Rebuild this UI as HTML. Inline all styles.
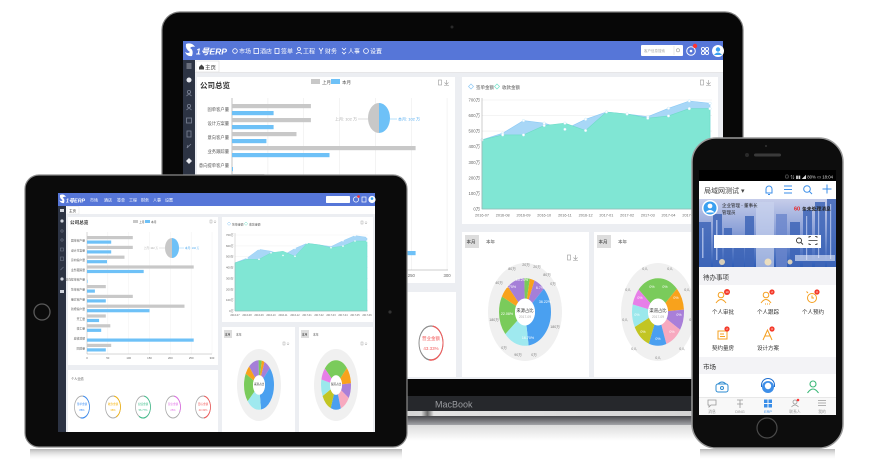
<!DOCTYPE html>
<html><head><meta charset="utf-8">
<style>
html,body{margin:0;padding:0;background:#fff;width:871px;height:464px;overflow:hidden;}
svg{display:block;}
text{font-family:"Liberation Sans","Noto Sans CJK SC",sans-serif;}
</style></head><body>
<svg width="871" height="464" viewBox="0 0 871 464" xmlns="http://www.w3.org/2000/svg">
<defs>
 <linearGradient id="strip" x1="0" x2="1" y1="0" y2="0">
  <stop offset="0" stop-color="#9a9a9a"/><stop offset="0.45" stop-color="#d8d8d8"/><stop offset="0.46" stop-color="#6a6a6a"/><stop offset="0.47" stop-color="#e4e4e4"/><stop offset="1" stop-color="#d0d0d0"/>
 </linearGradient>
 <linearGradient id="baseG" x1="0" x2="0" y1="0" y2="1">
  <stop offset="0" stop-color="#48494d"/><stop offset="1" stop-color="#a3a4a8"/>
 </linearGradient>
 <linearGradient id="refl" x1="0" x2="0" y1="0" y2="1">
  <stop offset="0" stop-color="#dcdcdc"/><stop offset="1" stop-color="#ffffff"/>
 </linearGradient>
 <linearGradient id="refl2" x1="0" x2="0" y1="0" y2="1">
  <stop offset="0" stop-color="#b8b8b8"/><stop offset="1" stop-color="#ffffff" stop-opacity="0"/>
 </linearGradient>
 <linearGradient id="ban" x1="0" y1="0" x2="0" y2="1">
  <stop offset="0" stop-color="#c6cdea"/><stop offset="0.45" stop-color="#8da2d8"/><stop offset="1" stop-color="#2e5cb6"/>
 </linearGradient>
</defs>

<!-- ============ LAPTOP ============ -->
<rect x="140" y="410" width="625" height="6" fill="url(#strip)"/>
<rect x="140" y="416" width="625" height="9" fill="url(#baseG)"/>
<rect x="150" y="425" width="605" height="16" fill="url(#refl)"/>
<rect x="162" y="12" width="581" height="398" rx="18" fill="#070707" stroke="#7d7d7d" stroke-width="1.2"/>
<rect x="163" y="396" width="579" height="15" fill="#26282c"/>
<text x="435" y="407.5" font-size="9" fill="#9a9ca0">MacBook</text>
<circle cx="452" cy="27" r="1.5" fill="#2a2a2a"/>

<!-- screen -->
<rect x="183" y="41" width="540" height="338" fill="#eceef2"/>
<rect x="183" y="41" width="540" height="19" fill="#5676d8"/>
<path d="M186,44 q6,-2 9,3 q-3,-1 -5,1 q4,2 2,8 q-5,1 -7,-4 q3,2 5,0 q-5,-3 -4,-8z" fill="#fff"/>
<text x="196" y="54.5" font-size="8.5" font-weight="bold" font-style="italic" fill="#fff" textLength="31" lengthAdjust="spacingAndGlyphs">1号ERP</text>
<g fill="none" stroke="#fff" stroke-width="0.8">
 <circle cx="235" cy="51" r="2.3"/><rect x="254" y="48.5" width="4.5" height="5"/><rect x="275" y="48.5" width="4" height="5"/>
 <circle cx="299" cy="49" r="1.5"/><path d="M296,54 q3,-3 6,0"/><path d="M319,48 l2,3 l2,-3 M321,51 v3"/><path d="M342,48 l2,2 l2,-2 M342,52 l2,2 l2,-2"/><circle cx="366" cy="51" r="2.4"/>
</g>
<g fill="#fff" font-size="6">
 <text x="239" y="53.5">市场</text><text x="260" y="53.5">酒店</text><text x="281" y="53.5">签单</text><text x="303" y="53.5">工程</text><text x="325" y="53.5">财务</text><text x="348" y="53.5">人事</text><text x="370" y="53.5">设置</text>
</g>
<rect x="641" y="45" width="42" height="11" rx="1" fill="#fff"/>
<text x="644" y="52" font-size="3.5" fill="#aaa">客户信息搜索</text>
<line x1="674" y1="46" x2="674" y2="55" stroke="#ddd" stroke-width="0.6"/>
<circle cx="678" cy="50.3" r="1.6" fill="none" stroke="#999" stroke-width="0.6"/>
<circle cx="691" cy="51" r="4.3" fill="none" stroke="#fff" stroke-width="1"/>
<circle cx="691" cy="51" r="1.3" fill="#fff"/>
<circle cx="695" cy="46" r="2.2" fill="#f33"/>
<g fill="none" stroke="#fff" stroke-width="0.9"><circle cx="703" cy="49" r="1.6"/><circle cx="707" cy="49" r="1.6"/><circle cx="703" cy="53" r="1.6"/><circle cx="707" cy="53" r="1.6"/></g>
<circle cx="718" cy="51" r="6" fill="#fff"/>
<circle cx="718" cy="49.5" r="2.2" fill="#3aa0f0"/>
<path d="M714,55 q4,-5 8,0z" fill="#3aa0f0"/>

<!-- sidebar -->
<rect x="183" y="60" width="12" height="319" fill="#2c3343"/>
<g stroke="#cfd3dc" stroke-width="0.8" fill="none">
 <path d="M186.5,64 h5 M186.5,66 h5 M186.5,68 h5"/>
</g>
<circle cx="189" cy="80" r="2.5" fill="#e8eaf0"/>
<g stroke="#7d8496" stroke-width="0.8" fill="none">
 <circle cx="189" cy="92" r="1.6"/><path d="M186.5,96 q2.5,-3 5,0"/>
 <circle cx="189" cy="106" r="1.6"/><path d="M186.5,110 q2.5,-3 5,0"/>
 <rect x="186.5" y="118" width="5" height="5"/>
 <rect x="187" y="131" width="4" height="6"/>
 <path d="M187,148 l4,-4 M187,148 l1,-3"/>
</g>
<path d="M186,161 l3,-3 l3,3 l-3,3z" fill="#e8eaf0"/>

<!-- tab row -->
<rect x="195" y="60" width="528" height="12" fill="#fff"/>
<rect x="196" y="61" width="23" height="11" fill="#fff" stroke="#ddd" stroke-width="0.6"/>
<path d="M199,67 l2.5,-2.5 l2.5,2.5 v2.5 h-5z" fill="#444"/>
<text x="205" y="69.3" font-size="5.5" fill="#333">主页</text>
<line x1="195" y1="72.3" x2="723" y2="72.3" stroke="#e2e2e2" stroke-width="0.6"/>

<!-- panels -->
<rect x="197" y="77" width="258" height="206" fill="#fff"/>
<rect x="462" y="77" width="256" height="147" fill="#fff"/>
<rect x="197" y="292" width="259" height="85" fill="#fff"/>
<rect x="462" y="232" width="127" height="145" fill="#fff"/>
<rect x="594" y="232" width="124" height="145" fill="#fff"/>

<!-- bar chart panel -->
<text x="200" y="88" font-size="7.5" font-weight="bold" fill="#333">公司总览</text>
<rect x="311" y="79" width="9" height="5" fill="#c8c8c8"/><text x="322" y="84" font-size="4.5" fill="#555">上月</text>
<rect x="331" y="79" width="9" height="5" fill="#6ec1f7"/><text x="342" y="84" font-size="4.5" fill="#555">本月</text>
<g fill="none" stroke="#999" stroke-width="0.6"><rect x="438.5" y="80" width="3" height="5"/><path d="M446.5,80 v4 M444.5,82.5 l2,2 l2,-2 M444,85.5 h5"/></g>
<g stroke="#ececec" stroke-width="0.6">
 <line x1="267.9" y1="98" x2="267.9" y2="270"/><line x1="303.7" y1="98" x2="303.7" y2="270"/><line x1="339.6" y1="98" x2="339.6" y2="270"/><line x1="375.4" y1="98" x2="375.4" y2="270"/><line x1="411.3" y1="98" x2="411.3" y2="270"/><line x1="447.1" y1="98" x2="447.1" y2="270"/>
</g>
<line x1="232" y1="98" x2="232" y2="270" stroke="#999" stroke-width="0.6"/>
<line x1="232" y1="270" x2="448" y2="270" stroke="#999" stroke-width="0.6"/>
<g fill="#c8c8c8">
 <rect x="232" y="104" width="78.9" height="4.2"/><rect x="232" y="118" width="78.9" height="4.2"/><rect x="232" y="132" width="64.5" height="4.2"/><rect x="232" y="146" width="183.6" height="4.2"/>
 <rect x="232" y="174" width="32.3" height="4.2"/><rect x="232" y="188" width="78.9" height="4.2"/><rect x="232" y="202" width="167.8" height="4.2"/><rect x="232" y="216" width="32.3" height="4.2"/><rect x="232" y="230" width="40.2" height="4.2"/><rect x="232" y="258" width="41.6" height="4.2"/>
</g>
<g fill="#6ec1f7">
 <rect x="232" y="111" width="41.6" height="4.2"/><rect x="232" y="125" width="41.6" height="4.2"/><rect x="232" y="139" width="34.4" height="4.2"/><rect x="232" y="153" width="97.5" height="4.2"/><rect x="232" y="167" width="1" height="4.2"/>
 <rect x="232" y="181" width="13.6" height="4.2"/><rect x="232" y="195" width="32.3" height="4.2"/><rect x="232" y="209" width="107.6" height="4.2"/><rect x="232" y="223" width="20.8" height="4.2"/><rect x="232" y="237" width="24.4" height="4.2"/><rect x="232" y="251" width="183.6" height="4.2"/><rect x="232" y="265" width="32.3" height="4.2"/>
</g>
<g font-size="4.3" fill="#555" text-anchor="end">
 <text x="229" y="111">固单客户量</text><text x="229" y="125">设计方案量</text><text x="229" y="139">意向客户量</text><text x="229" y="153">业务跟踪量</text><text x="229" y="167">意向提单客户量</text><text x="229" y="181">签单客户量</text>
</g>
<g font-size="4.3" fill="#666" text-anchor="middle">
 <text x="232" y="277">0</text><text x="267.9" y="277">50</text><text x="303.7" y="277">100</text><text x="339.6" y="277">150</text><text x="375.4" y="277">200</text><text x="411.3" y="277">250</text><text x="447.1" y="277">300</text>
</g>
<path d="M379,103 a11,15 0 0,0 0,30z" fill="#c8c8c8"/>
<path d="M379,103 a11,15 0 0,1 0,30z" fill="#6ec1f7"/>
<line x1="358" y1="119" x2="368" y2="119" stroke="#bbb" stroke-width="0.5"/>
<text x="357" y="120.5" font-size="4" fill="#aaa" text-anchor="end">上月: 102 万</text>
<line x1="390" y1="119" x2="397" y2="119" stroke="#6ec1f7" stroke-width="0.5"/>
<text x="398" y="120.5" font-size="4" fill="#4aa8f0">本月: 102 万</text>

<!-- line chart panel -->
<path d="M471,84 l2.5,2.5 l-2.5,2.5 l-2.5,-2.5z" fill="none" stroke="#8cc8f5" stroke-width="0.7"/>
<text x="476" y="89" font-size="4.5" fill="#555">签单金额</text>
<path d="M497,84 l2.5,2.5 l-2.5,2.5 l-2.5,-2.5z" fill="none" stroke="#6fe0c8" stroke-width="0.7"/>
<text x="502" y="89" font-size="4.5" fill="#555">收款金额</text>
<g fill="none" stroke="#999" stroke-width="0.6"><rect x="700.5" y="80" width="3" height="5"/><path d="M708.5,80 v4 M706.5,82.5 l2,2 l2,-2 M706,85.5 h5"/></g>
<g stroke="#ededed" stroke-width="0.6">
 <line x1="482" y1="100" x2="712" y2="100"/><line x1="482" y1="115.6" x2="712" y2="115.6"/><line x1="482" y1="131.1" x2="712" y2="131.1"/><line x1="482" y1="146.7" x2="712" y2="146.7"/><line x1="482" y1="162.3" x2="712" y2="162.3"/><line x1="482" y1="177.9" x2="712" y2="177.9"/><line x1="482" y1="193.4" x2="712" y2="193.4"/>
</g>
<path d="M482,209 L482,139.9 L502.7,133.2 L523.5,120.6 L544.2,123.2 L564.9,129.3 L585.6,119.3 L606.4,112 L627.1,114 L647.8,116.7 L668.5,108.3 L689.3,101 L710,103.3 L710,209 Z" fill="#a8d7f7" stroke="#8ccaf5" stroke-width="0.6"/>
<path d="M482,209 L482,139.9 L502.7,134.9 L523.5,134.9 L544.2,125.5 L564.9,123.2 L585.6,130.5 L606.4,112 L627.1,114 L647.8,118.2 L668.5,115.9 L689.3,108.6 L710,108.6 L710,209 Z" fill="#80e6d4" stroke="#6ddcc6" stroke-width="0.6"/>
<g fill="#fff" stroke="#bfe6f8" stroke-width="0.4">
 <circle cx="482" cy="139.9" r="1.3"/><circle cx="502.7" cy="133.2" r="1.3"/><circle cx="523.5" cy="120.6" r="1.3"/><circle cx="544.2" cy="123.2" r="1.3"/><circle cx="564.9" cy="129.3" r="1.3"/><circle cx="585.6" cy="119.3" r="1.3"/><circle cx="606.4" cy="112" r="1.3"/><circle cx="627.1" cy="114" r="1.3"/><circle cx="647.8" cy="116.7" r="1.3"/><circle cx="668.5" cy="108.3" r="1.3"/><circle cx="689.3" cy="101" r="1.3"/><circle cx="710" cy="103.3" r="1.3"/>
 <circle cx="502.7" cy="134.9" r="1.3"/><circle cx="523.5" cy="134.9" r="1.3"/><circle cx="544.2" cy="125.5" r="1.3"/><circle cx="564.9" cy="123.2" r="1.3"/><circle cx="585.6" cy="130.5" r="1.3"/><circle cx="647.8" cy="118.2" r="1.3"/><circle cx="668.5" cy="115.9" r="1.3"/><circle cx="689.3" cy="108.6" r="1.3"/><circle cx="710" cy="108.6" r="1.3"/>
</g>
<line x1="482" y1="98" x2="482" y2="209" stroke="#aaa" stroke-width="0.6"/>
<line x1="482" y1="209" x2="712" y2="209" stroke="#aaa" stroke-width="0.6"/>
<g font-size="4.3" fill="#666" text-anchor="end">
 <text x="480" y="101.5">700万</text><text x="480" y="117">600万</text><text x="480" y="132.6">500万</text><text x="480" y="148.2">400万</text><text x="480" y="163.8">300万</text><text x="480" y="179.4">200万</text><text x="480" y="194.9">100万</text><text x="480" y="210.5">0万</text>
</g>
<g font-size="3.8" fill="#666" text-anchor="middle">
 <text x="482" y="216.5">2016-07</text><text x="502.7" y="216.5">2016-08</text><text x="523.5" y="216.5">2016-09</text><text x="544.2" y="216.5">2016-10</text><text x="564.9" y="216.5">2016-11</text><text x="585.6" y="216.5">2016-12</text><text x="606.4" y="216.5">2017-01</text><text x="627.1" y="216.5">2017-02</text><text x="647.8" y="216.5">2017-03</text><text x="668.5" y="216.5">2017-04</text><text x="689.3" y="216.5">2017-05</text><text x="710" y="216.5">2017-06</text>
</g>

<!-- donut panel 1 -->
<rect x="465" y="235" width="14" height="13" fill="#ddd"/>
<text x="466.5" y="243.5" font-size="4.5" fill="#333">本月</text>
<text x="486" y="243.5" font-size="4.5" fill="#555">本年</text>
<g fill="none" stroke="#999" stroke-width="0.6"><rect x="567.5" y="255" width="3" height="5"/><path d="M575.5,255 v4 M573.5,257.5 l2,2 l2,-2 M573,260.5 h5"/></g>
<ellipse cx="525" cy="312" rx="37" ry="49" fill="#f0f0f0"/>
<g transform="translate(525,312) scale(1,1.3) rotate(-90)" fill="none" stroke-width="16">
 <circle r="18" pathLength="100" stroke="#7acb5b" stroke-dasharray="3 97" stroke-dashoffset="0"/>
 <circle r="18" pathLength="100" stroke="#f8a21c" stroke-dasharray="3 97" stroke-dashoffset="-3"/>
 <circle r="18" pathLength="100" stroke="#a57fd8" stroke-dasharray="7 93" stroke-dashoffset="-6"/>
 <circle r="18" pathLength="100" stroke="#4aa0f0" stroke-dasharray="35 65" stroke-dashoffset="-13"/>
 <circle r="18" pathLength="100" stroke="#9fe9ef" stroke-dasharray="16 84" stroke-dashoffset="-48"/>
 <circle r="18" pathLength="100" stroke="#7acb5b" stroke-dasharray="19 81" stroke-dashoffset="-64"/>
 <circle r="18" pathLength="100" stroke="#f8a21c" stroke-dasharray="6 94" stroke-dashoffset="-83"/>
 <circle r="18" pathLength="100" stroke="#a57fd8" stroke-dasharray="11 89" stroke-dashoffset="-89"/>
</g>
<ellipse cx="525" cy="312" rx="10" ry="13.5" fill="#fff"/>
<text x="525" y="312" font-size="4.3" fill="#333" text-anchor="middle">来源占比</text>
<text x="525" y="318" font-size="3.3" fill="#aaa" text-anchor="middle">2017-09</text>
<g font-size="3.6" fill="#fff" text-anchor="middle">
 <text x="545" y="303">36.22%</text><text x="528" y="339">16.70%</text><text x="507" y="315">22.08%</text><text x="511" y="288">4.75%</text><text x="522" y="281">10.24%</text><text x="540" y="289">6.7%</text>
</g>
<g font-size="3.6" fill="#777" text-anchor="middle">
 <text x="512" y="270">80万</text><text x="526" y="266">20万</text><text x="537" y="268">20万</text><text x="547" y="276">80万</text><text x="553" y="285">0万</text><text x="555" y="328">180万</text><text x="534" y="356">0万</text><text x="518" y="356">90万</text><text x="504" y="349">0万</text><text x="494" y="321">180万</text><text x="499" y="284">40万</text>
</g>

<!-- donut panel 2 -->
<rect x="597" y="235" width="14" height="13" fill="#ddd"/>
<text x="598.5" y="243.5" font-size="4.5" fill="#333">本月</text>
<text x="618" y="243.5" font-size="4.5" fill="#555">本年</text>
<ellipse cx="658" cy="312" rx="37" ry="49" fill="#f0f0f0"/>
<g transform="translate(658,312) scale(1,1.3) rotate(-90)" fill="none" stroke-width="16">
 <circle r="18" pathLength="100" stroke="#7acb5b" stroke-dasharray="26 74" stroke-dashoffset="13"/>
 <circle r="18" pathLength="100" stroke="#f8a21c" stroke-dasharray="11 89" stroke-dashoffset="-13"/>
 <circle r="18" pathLength="100" stroke="#a97fd9" stroke-dasharray="10 90" stroke-dashoffset="-24"/>
 <circle r="18" pathLength="100" stroke="#f7a9bf" stroke-dasharray="11 89" stroke-dashoffset="-34"/>
 <circle r="18" pathLength="100" stroke="#4a9ff0" stroke-dasharray="11 89" stroke-dashoffset="-45"/>
 <circle r="18" pathLength="100" stroke="#c2c523" stroke-dasharray="12 88" stroke-dashoffset="-56"/>
 <circle r="18" pathLength="100" stroke="#9be8ec" stroke-dasharray="11 89" stroke-dashoffset="-68"/>
 <circle r="18" pathLength="100" stroke="#e77fe8" stroke-dasharray="8 92" stroke-dashoffset="-79"/>
</g>
<ellipse cx="658" cy="312" rx="10" ry="13.5" fill="#fff"/>
<text x="658" y="312" font-size="4.3" fill="#333" text-anchor="middle">渠道占比</text>
<text x="658" y="318" font-size="3.3" fill="#aaa" text-anchor="middle">2017-09</text>
<g font-size="3.6" fill="#fff" text-anchor="middle">
 <text x="652" y="288">0%</text><text x="665" y="288">0%</text><text x="676" y="299">0%</text><text x="679" y="316">0%</text><text x="672" y="333">0%</text><text x="658" y="340">0%</text><text x="643" y="333">0%</text><text x="637" y="316">0%</text><text x="640" y="299">0%</text>
</g>
<g font-size="3.6" fill="#777" text-anchor="middle">
 <text x="645" y="270">0人</text><text x="670" y="270">0人</text><text x="687" y="291">0人</text><text x="692" y="321">0人</text><text x="682" y="350">0人</text><text x="658" y="359">0人</text><text x="634" y="350">0人</text><text x="625" y="321">0人</text><text x="628" y="291">0人</text>
</g>

<!-- laptop bottom-left panel circle -->
<g transform="translate(431,343) scale(1.2,1.7)">
 <circle r="10" fill="none" stroke="#8a8a8a" stroke-width="0.8"/>
 <circle r="10" pathLength="100" fill="none" stroke="#f25a5a" stroke-width="0.8" stroke-dasharray="50 50" transform="rotate(-80)"/>
</g>
<text x="431" y="340" font-size="4.5" fill="#f25a5a" text-anchor="middle">营业金额</text>
<text x="431" y="350" font-size="4.5" fill="#f25a5a" text-anchor="middle">43.33%</text>

<!-- ============ TABLET ============ -->
<rect x="30" y="449" width="372" height="12" fill="url(#refl2)"/>
<rect x="25" y="175" width="382" height="272" rx="14" fill="#0b0b0b" stroke="#8a8a8a" stroke-width="1.2"/>
<circle cx="42" cy="312" r="8" fill="#0b0b0b" stroke="#5a5a5a" stroke-width="1.3"/>
<circle cx="390" cy="312" r="1.6" fill="#333"/>
<rect x="58" y="193" width="317" height="239" fill="#eceef2"/>
<rect x="58" y="193" width="317" height="13" fill="#5676d8"/>
<path d="M60,195 q4,-1.5 6,2 q-2,-0.7 -3.3,0.7 q2.7,1.3 1.3,5.3 q-3.3,0.7 -4.7,-2.7 q2,1.3 3.3,0 q-3.3,-2 -2.6,-5.3z" fill="#fff"/>
<text x="66" y="202.5" font-size="5.5" font-weight="bold" font-style="italic" fill="#fff" textLength="19" lengthAdjust="spacingAndGlyphs">1号ERP</text>
<g fill="#fff" font-size="4">
 <text x="90" y="201.5">市场</text><text x="104" y="201.5">酒店</text><text x="117" y="201.5">签单</text><text x="129" y="201.5">工程</text><text x="141" y="201.5">财务</text><text x="153" y="201.5">人事</text><text x="165" y="201.5">设置</text>
</g>
<rect x="326" y="196" width="24" height="7" rx="0.8" fill="#fff"/>
<circle cx="356" cy="199.5" r="2.6" fill="none" stroke="#fff" stroke-width="0.7"/>
<circle cx="358.5" cy="196.5" r="1.3" fill="#f33"/>
<rect x="362" y="197" width="4" height="5" fill="none" stroke="#fff" stroke-width="0.7"/>
<circle cx="372" cy="199.5" r="3.6" fill="#fff"/>
<circle cx="372" cy="198.6" r="1.3" fill="#3aa0f0"/>
<rect x="58" y="206" width="8" height="226" fill="#2c3343"/>
<g fill="#cfd3dc"><rect x="60" y="209" width="4" height="3"/><circle cx="62" cy="221" r="1.6"/><circle cx="62" cy="279" r="1.6"/><rect x="60" y="290" width="4" height="3"/></g>
<g fill="none" stroke="#6d7486" stroke-width="0.6"><circle cx="62" cy="231" r="1.2"/><circle cx="62" cy="240" r="1.2"/><rect x="60.5" y="248" width="3" height="3"/><rect x="60.5" y="257" width="3" height="3.5"/><path d="M60.5,270 l3,-3"/></g>
<rect x="66" y="206" width="309" height="8" fill="#fff"/>
<rect x="67" y="206.5" width="12" height="7.5" fill="#fff" stroke="#ddd" stroke-width="0.4"/>
<text x="69" y="212" font-size="3.5" fill="#333">主页</text>

<rect x="68" y="217" width="150" height="148" fill="#fff"/>
<rect x="222" y="217" width="151" height="105" fill="#fff"/>
<rect x="68" y="370" width="150" height="62" fill="#fff"/>
<rect x="222" y="327" width="73" height="105" fill="#fff"/>
<rect x="299" y="327" width="74" height="105" fill="#fff"/>

<!-- tablet bar chart -->
<text x="70" y="224" font-size="4.6" font-weight="bold" fill="#333">公司总览</text>
<rect x="133" y="220" width="5" height="3" fill="#c8c8c8"/><text x="139" y="223" font-size="2.8" fill="#555">上月</text>
<rect x="145" y="220" width="5" height="3" fill="#6ec1f7"/><text x="151" y="223" font-size="2.8" fill="#555">本月</text>
<g fill="none" stroke="#999" stroke-width="0.4"><rect x="210" y="220" width="2" height="3"/><path d="M215,220 v2.5 M213.8,221.8 l1.2,1.2 l1.2,-1.2"/></g>
<g stroke="#ececec" stroke-width="0.4">
 <line x1="107.8" y1="232" x2="107.8" y2="354"/><line x1="128.7" y1="232" x2="128.7" y2="354"/><line x1="149.5" y1="232" x2="149.5" y2="354"/><line x1="170.3" y1="232" x2="170.3" y2="354"/><line x1="191.2" y1="232" x2="191.2" y2="354"/><line x1="212" y1="232" x2="212" y2="354"/>
</g>
<line x1="87" y1="232" x2="87" y2="354" stroke="#999" stroke-width="0.4"/>
<line x1="87" y1="354" x2="212" y2="354" stroke="#999" stroke-width="0.4"/>
<g fill="#c8c8c8">
 <rect x="87" y="236" width="45.8" height="3.2"/><rect x="87" y="245.8" width="45.8" height="3.2"/><rect x="87" y="255.6" width="37.5" height="3.2"/><rect x="87" y="265.4" width="106.7" height="3.2"/><rect x="87" y="285" width="18.8" height="3.2"/><rect x="87" y="294.8" width="45.8" height="3.2"/><rect x="87" y="304.6" width="97.5" height="3.2"/><rect x="87" y="314.4" width="18.8" height="3.2"/><rect x="87" y="324.2" width="23.3" height="3.2"/><rect x="87" y="343.8" width="24.2" height="3.2"/>
</g>
<g fill="#6ec1f7">
 <rect x="87" y="240.5" width="24.2" height="3.2"/><rect x="87" y="250.3" width="24.2" height="3.2"/><rect x="87" y="260.1" width="20" height="3.2"/><rect x="87" y="269.9" width="56.7" height="3.2"/><rect x="87" y="279.7" width="0.6" height="3.2"/><rect x="87" y="289.5" width="7.9" height="3.2"/><rect x="87" y="299.3" width="18.8" height="3.2"/><rect x="87" y="309.1" width="62.5" height="3.2"/><rect x="87" y="318.9" width="12.1" height="3.2"/><rect x="87" y="328.7" width="14.2" height="3.2"/><rect x="87" y="338.5" width="106.7" height="3.2"/><rect x="87" y="348.3" width="18.8" height="3.2"/>
</g>
<g font-size="2.8" fill="#555" text-anchor="end">
 <text x="85" y="241.5">固单客户量</text><text x="85" y="251.3">设计方案量</text><text x="85" y="261.1">意向客户量</text><text x="85" y="270.9">业务跟踪量</text><text x="85" y="280.7">意向提单客户量</text><text x="85" y="290.5">签单客户量</text><text x="85" y="300.3">量房客户量</text><text x="85" y="310.1">新增客户量</text><text x="85" y="319.9">开工量</text><text x="85" y="329.7">竣工量</text><text x="85" y="339.5">应收款额</text><text x="85" y="349.3">回款量</text>
</g>
<g font-size="2.8" fill="#666" text-anchor="middle">
 <text x="87" y="359">0</text><text x="107.8" y="359">50</text><text x="128.7" y="359">100</text><text x="149.5" y="359">150</text><text x="170.3" y="359">200</text><text x="191.2" y="359">250</text><text x="212" y="359">300</text>
</g>
<path d="M172,238 a7,10 0 0,0 0,20z" fill="#c8c8c8"/>
<path d="M172,238 a7,10 0 0,1 0,20z" fill="#6ec1f7"/>
<line x1="159" y1="248" x2="165" y2="248" stroke="#bbb" stroke-width="0.4"/>
<text x="158" y="249" font-size="2.6" fill="#aaa" text-anchor="end">上月: 102 万</text>
<line x1="179" y1="248" x2="184" y2="248" stroke="#6ec1f7" stroke-width="0.4"/>
<text x="185" y="249" font-size="2.6" fill="#4aa8f0">本月: 102 万</text>

<!-- tablet line chart -->
<path d="M229,222 l1.7,1.7 l-1.7,1.7 l-1.7,-1.7z" fill="none" stroke="#8cc8f5" stroke-width="0.5"/>
<text x="232" y="225.5" font-size="2.9" fill="#555">签单金额</text>
<path d="M246,222 l1.7,1.7 l-1.7,1.7 l-1.7,-1.7z" fill="none" stroke="#6fe0c8" stroke-width="0.5"/>
<text x="249" y="225.5" font-size="2.9" fill="#555">收款金额</text>
<g fill="none" stroke="#999" stroke-width="0.4"><rect x="361" y="221" width="2" height="3"/><path d="M366,221 v2.5 M364.8,222.8 l1.2,1.2 l1.2,-1.2"/></g>
<g stroke="#ededed" stroke-width="0.4">
 <line x1="235" y1="235" x2="368" y2="235"/><line x1="235" y1="245.9" x2="368" y2="245.9"/><line x1="235" y1="256.7" x2="368" y2="256.7"/><line x1="235" y1="267.6" x2="368" y2="267.6"/><line x1="235" y1="278.4" x2="368" y2="278.4"/><line x1="235" y1="289.3" x2="368" y2="289.3"/><line x1="235" y1="300.1" x2="368" y2="300.1"/>
</g>
<path d="M235,311 L235,262.8 L247,258.1 L259,249.3 L271,251.2 L283,255.4 L295,248.4 L307,243.3 L319,244.8 L331,246.6 L343,240.7 L355,235.6 L367,237.3 L367,311 Z" fill="#a8d7f7" stroke="#8ccaf5" stroke-width="0.4"/>
<path d="M235,311 L235,262.8 L247,259.3 L259,259.3 L271,252.8 L283,251.2 L295,256.3 L307,243.3 L319,244.8 L331,247.7 L343,246.1 L355,241 L367,241 L367,311 Z" fill="#80e6d4" stroke="#6ddcc6" stroke-width="0.4"/>
<g fill="#fff">
 <circle cx="247" cy="258.1" r="0.8"/><circle cx="259" cy="249.3" r="0.8"/><circle cx="283" cy="255.4" r="0.8"/><circle cx="295" cy="248.4" r="0.8"/><circle cx="307" cy="243.3" r="0.8"/><circle cx="343" cy="240.7" r="0.8"/><circle cx="355" cy="235.6" r="0.8"/><circle cx="367" cy="237.3" r="0.8"/>
 <circle cx="259" cy="259.3" r="0.8"/><circle cx="271" cy="252.8" r="0.8"/><circle cx="295" cy="256.3" r="0.8"/><circle cx="331" cy="247.7" r="0.8"/><circle cx="343" cy="246.1" r="0.8"/><circle cx="355" cy="241" r="0.8"/><circle cx="367" cy="241" r="0.8"/>
</g>
<line x1="235" y1="233" x2="235" y2="311" stroke="#aaa" stroke-width="0.4"/>
<line x1="235" y1="311" x2="368" y2="311" stroke="#aaa" stroke-width="0.4"/>
<g font-size="2.8" fill="#666" text-anchor="end">
 <text x="233.5" y="236">700万</text><text x="233.5" y="246.9">600万</text><text x="233.5" y="257.7">500万</text><text x="233.5" y="268.6">400万</text><text x="233.5" y="279.4">300万</text><text x="233.5" y="290.3">200万</text><text x="233.5" y="301.1">100万</text><text x="233.5" y="312">0万</text>
</g>
<g font-size="2.5" fill="#666" text-anchor="middle">
 <text x="235" y="316">2016-07</text><text x="247" y="316">2016-08</text><text x="259" y="316">2016-09</text><text x="271" y="316">2016-10</text><text x="283" y="316">2016-11</text><text x="295" y="316">2016-12</text><text x="307" y="316">2017-01</text><text x="319" y="316">2017-02</text><text x="331" y="316">2017-03</text><text x="343" y="316">2017-04</text><text x="355" y="316">2017-05</text><text x="367" y="316">2017-06</text>
</g>

<!-- tablet donut 1 -->
<rect x="224" y="330" width="8" height="8" fill="#ddd"/>
<text x="224.8" y="335.5" font-size="2.8" fill="#333">本月</text>
<text x="236" y="335.5" font-size="2.8" fill="#555">本年</text>
<g fill="none" stroke="#999" stroke-width="0.4"><rect x="283" y="342" width="2" height="3"/><path d="M288,342 v2.5 M286.8,343.8 l1.2,1.2 l1.2,-1.2"/></g>
<ellipse cx="259" cy="385" rx="22" ry="36" fill="#f0f0f0"/>
<g transform="translate(259,385) scale(1,1.65) rotate(-90)" fill="none" stroke-width="9">
 <circle r="10.5" pathLength="100" stroke="#7acb5b" stroke-dasharray="3 97" stroke-dashoffset="0"/>
 <circle r="10.5" pathLength="100" stroke="#f8a21c" stroke-dasharray="3 97" stroke-dashoffset="-3"/>
 <circle r="10.5" pathLength="100" stroke="#a57fd8" stroke-dasharray="7 93" stroke-dashoffset="-6"/>
 <circle r="10.5" pathLength="100" stroke="#4aa0f0" stroke-dasharray="35 65" stroke-dashoffset="-13"/>
 <circle r="10.5" pathLength="100" stroke="#9fe9ef" stroke-dasharray="16 84" stroke-dashoffset="-48"/>
 <circle r="10.5" pathLength="100" stroke="#7acb5b" stroke-dasharray="19 81" stroke-dashoffset="-64"/>
 <circle r="10.5" pathLength="100" stroke="#f8a21c" stroke-dasharray="6 94" stroke-dashoffset="-83"/>
 <circle r="10.5" pathLength="100" stroke="#a57fd8" stroke-dasharray="11 89" stroke-dashoffset="-89"/>
</g>
<ellipse cx="259" cy="385" rx="6" ry="9.5" fill="#fff"/>
<text x="259" y="385" font-size="2.6" fill="#333" text-anchor="middle">来源占比</text>

<!-- tablet donut 2 -->
<rect x="301" y="330" width="8" height="8" fill="#ddd"/>
<text x="301.8" y="335.5" font-size="2.8" fill="#333">本月</text>
<text x="313" y="335.5" font-size="2.8" fill="#555">本年</text>
<g fill="none" stroke="#999" stroke-width="0.4"><rect x="361" y="342" width="2" height="3"/><path d="M366,342 v2.5 M364.8,343.8 l1.2,1.2 l1.2,-1.2"/></g>
<ellipse cx="336" cy="385" rx="22" ry="36" fill="#f0f0f0"/>
<g transform="translate(336,385) scale(1,1.65) rotate(-90)" fill="none" stroke-width="9">
 <circle r="10.5" pathLength="100" stroke="#7acb5b" stroke-dasharray="26 74" stroke-dashoffset="13"/>
 <circle r="10.5" pathLength="100" stroke="#f8a21c" stroke-dasharray="11 89" stroke-dashoffset="-13"/>
 <circle r="10.5" pathLength="100" stroke="#a97fd9" stroke-dasharray="10 90" stroke-dashoffset="-24"/>
 <circle r="10.5" pathLength="100" stroke="#f7a9bf" stroke-dasharray="11 89" stroke-dashoffset="-34"/>
 <circle r="10.5" pathLength="100" stroke="#4a9ff0" stroke-dasharray="11 89" stroke-dashoffset="-45"/>
 <circle r="10.5" pathLength="100" stroke="#c2c523" stroke-dasharray="12 88" stroke-dashoffset="-56"/>
 <circle r="10.5" pathLength="100" stroke="#9be8ec" stroke-dasharray="11 89" stroke-dashoffset="-68"/>
 <circle r="10.5" pathLength="100" stroke="#e77fe8" stroke-dasharray="8 92" stroke-dashoffset="-79"/>
</g>
<ellipse cx="336" cy="385" rx="6" ry="9.5" fill="#fff"/>
<text x="336" y="385" font-size="2.6" fill="#333" text-anchor="middle">渠道占比</text>

<!-- tablet personal performance -->
<text x="71" y="380" font-size="3.2" fill="#555">个人业绩</text>
<g fill="none" stroke-width="1">
 <g transform="translate(82,407) scale(0.75,1.1)"><circle r="10" stroke="#aaa"/><circle r="10" pathLength="100" stroke="#3d8ef5" stroke-dasharray="50 50" transform="rotate(-80)"/></g>
 <g transform="translate(113,407) scale(0.75,1.1)"><circle r="10" stroke="#aaa"/><circle r="10" pathLength="100" stroke="#f6b40c" stroke-dasharray="40 60" transform="rotate(-80)"/></g>
 <g transform="translate(143,407) scale(0.75,1.1)"><circle r="10" stroke="#aaa"/><circle r="10" pathLength="100" stroke="#45c08f" stroke-dasharray="56 44" transform="rotate(-80)"/></g>
 <g transform="translate(173,407) scale(0.75,1.1)"><circle r="10" stroke="#aaa"/><circle r="10" pathLength="100" stroke="#e06be6" stroke-dasharray="30 70" transform="rotate(-80)"/></g>
 <g transform="translate(203,407) scale(0.75,1.1)"><circle r="10" stroke="#aaa"/><circle r="10" pathLength="100" stroke="#f25a5a" stroke-dasharray="45 55" transform="rotate(-80)"/></g>
</g>
<g font-size="2.6" text-anchor="middle">
 <text x="82" y="405" fill="#3d8ef5">签单金额</text><text x="82" y="411" fill="#3d8ef5">88%</text>
 <text x="113" y="405" fill="#f6b40c">收款金额</text><text x="113" y="411" fill="#f6b40c">38%</text>
 <text x="143" y="405" fill="#45c08f">业绩金额</text><text x="143" y="411" fill="#45c08f">56.77%</text>
 <text x="173" y="405" fill="#e06be6">营业金额</text><text x="173" y="411" fill="#e06be6">25%</text>
 <text x="203" y="405" fill="#f25a5a">目标金额</text><text x="203" y="411" fill="#f25a5a">43.33%</text>
</g>

<!-- ============ PHONE ============ -->
<rect x="700" y="449" width="135" height="11" fill="url(#refl2)"/>
<rect x="692" y="138" width="151" height="310" rx="24" fill="#0d0d0d" stroke="#9a9a9a" stroke-width="1.5"/>
<circle cx="766" cy="146" r="1" fill="#333"/>
<circle cx="747" cy="155" r="2" fill="#2a2a2a"/>
<rect x="754" y="153.5" width="27" height="3" rx="1.5" fill="#3a3a3a"/>
<circle cx="767" cy="428" r="10" fill="#0a0a0a" stroke="#4a4a4a" stroke-width="1.2"/>
<rect x="699" y="170" width="137" height="12" fill="#000"/>
<text x="833" y="178.5" font-size="4.3" fill="#ddd" text-anchor="end">◎ ⇅ ▮▮ ◢ 80% ▭ 18:04</text>
<rect x="699" y="181" width="137" height="18" fill="#fff"/>
<text x="704" y="193" font-size="7" fill="#444">局域网测试 ▾</text>
<g fill="none" stroke="#3a8ee8" stroke-width="1">
 <path d="M766,193 v-4 a3,3 0 0,1 6,0 v4 z M768,194.5 h2"/>
 <path d="M784,186 h8 M784,189.5 h8 M784,193 h8"/>
 <circle cx="807" cy="189" r="3.3"/><path d="M809.5,191.5 l2.5,2.5"/>
 <path d="M827,184.5 v9 M822.5,189 h9"/>
</g>

<!-- banner -->
<rect x="699" y="199" width="137" height="68" fill="url(#ban)"/>
<g fill="#3f66b8" opacity="0.85">
 <rect x="699" y="222" width="12" height="45"/><rect x="713" y="214" width="9" height="53"/><rect x="724" y="228" width="8" height="39"/><rect x="734" y="240" width="10" height="27"/><rect x="745" y="216" width="9" height="51"/>
 <rect x="790" y="222" width="10" height="45"/><rect x="803" y="210" width="9" height="57"/><rect x="815" y="202" width="10" height="65"/><rect x="827" y="199" width="9" height="68"/>
</g>
<rect x="756" y="202" width="18" height="65" fill="#c9d3ee" opacity="0.7"/>
<rect x="776" y="214" width="11" height="53" fill="#6a86cc" opacity="0.8"/>
<g fill="#dfe7ff" opacity="0.6">
 <rect x="702" y="228" width="1.5" height="30"/><rect x="716" y="220" width="1.5" height="40"/><rect x="806" y="216" width="1.2" height="44"/><rect x="818" y="208" width="1.2" height="50"/><rect x="830" y="204" width="1.2" height="55"/>
</g>
<g fill="#ffe9b8" opacity="0.8"><circle cx="722" cy="262" r="3"/><circle cx="768" cy="262" r="3.5"/><circle cx="790" cy="262" r="2.5"/></g>
<rect x="795" y="255" width="40" height="6" fill="#e7ecfa" opacity="0.6"/>
<circle cx="710" cy="208" r="8" fill="#fff"/>
<circle cx="710" cy="208" r="6.5" fill="#3aa0f0"/>
<circle cx="710" cy="206" r="2.4" fill="#fff"/>
<path d="M705.5,212.5 q4.5,-5 9,0" fill="#fff"/>
<text x="722" y="207" font-size="4.5" fill="#222">企业管理 - 董事长</text>
<text x="722" y="214" font-size="4.5" fill="#222">管理员</text>
<text x="794" y="210.5" font-size="5.5" font-weight="bold" fill="#e82020">60</text>
<text x="802" y="210.5" font-size="4.8" font-weight="bold" fill="#222">条未处理消息</text>
<rect x="714" y="235" width="107" height="13" fill="#fff"/>
<circle cx="799" cy="240.5" r="2.5" fill="none" stroke="#333" stroke-width="0.9"/>
<path d="M801,242.5 l2,2" stroke="#333" stroke-width="0.9"/>
<path d="M809,238 v-1.5 h2 M815,236.5 h2 v1.5 M809,243 v1.5 h2 M815,244.5 h2 v-1.5 M808.5,240.5 h9" fill="none" stroke="#333" stroke-width="0.7"/>

<!-- todo section -->
<rect x="699" y="267" width="137" height="18" fill="#f3f3f6"/>
<text x="703" y="279.5" font-size="6.5" fill="#333">待办事项</text>
<rect x="699" y="285" width="137" height="72" fill="#fff"/>
<g fill="none" stroke="#f5a020" stroke-width="1">
 <circle cx="721" cy="295" r="2.8"/><path d="M716,303 q5,-7 10,0"/>
 <circle cx="766" cy="295" r="2.8"/><path d="M761,303 q5,-7 10,0"/><path d="M765,304 h6" stroke-dasharray="1 1"/>
 <circle cx="812" cy="298" r="4.5"/><path d="M812,295.5 v2.5 h2 M808,293 l-1.5,-1.5 M816,293 l1.5,-1.5"/>
 <rect x="718" y="331" width="9" height="8"/><path d="M720,334 h4 M720,336.5 h5"/>
 <path d="M763,340 l4.5,-10 l4.5,10 M765,336 h5"/>
</g>
<g fill="#f43a2a">
 <circle cx="727" cy="292" r="3"/><circle cx="772" cy="292" r="2.6"/><circle cx="817" cy="292" r="2.6"/><circle cx="727" cy="329" r="2.6"/><circle cx="772" cy="329" r="2.6"/>
</g>
<g font-size="2.8" fill="#fff" text-anchor="middle"><text x="727" y="293">10</text><text x="772" y="293">2</text><text x="817" y="293">0</text><text x="727" y="330">2</text><text x="772" y="330">0</text></g>
<g font-size="5.5" fill="#333" text-anchor="middle">
 <text x="723" y="314">个人审批</text><text x="768" y="314">个人跟踪</text><text x="813" y="314">个人预约</text>
 <text x="723" y="350">契约量房</text><text x="768" y="350">设计方案</text>
</g>

<!-- market section -->
<rect x="699" y="357" width="137" height="17" fill="#f3f3f6"/>
<text x="703" y="369" font-size="6.5" fill="#333">市场</text>
<rect x="699" y="374" width="137" height="23" fill="#fff"/>
<g fill="none" stroke="#2d8bd0" stroke-width="1"><rect x="716" y="384" width="12" height="8" rx="2"/><path d="M718,384 q4,-4 8,0"/><circle cx="722" cy="388" r="1.5"/></g>
<circle cx="768" cy="387" r="6" fill="#3d8ee8"/>
<circle cx="768" cy="386" r="3.2" fill="#fff"/>
<path d="M761.5,387 v-2 a6.5,6.5 0 0,1 13,0 v2" fill="none" stroke="#1f6fd0" stroke-width="1"/>
<g fill="none" stroke="#3cb878" stroke-width="1.1"><circle cx="813" cy="384" r="3"/><path d="M807.5,393 q5.5,-8 11,0"/></g>

<!-- tab bar -->
<rect x="699" y="397" width="137" height="18" fill="#f8f8f8"/>
<line x1="699" y1="397.3" x2="836" y2="397.3" stroke="#ddd" stroke-width="0.6"/>
<g fill="none" stroke="#999" stroke-width="0.8">
 <path d="M708,400 h8 v5 h-5 l-2,2 v-2 h-1z"/>
 <path d="M737,400 h6 M740,400 v4 M737,404 h6 M740,404 v4"/>
 <circle cx="795" cy="402" r="2"/><path d="M791.5,407 q3.5,-4 7,0"/>
 <path d="M818,400.5 h8 M818,403 h8 M818,405.5 h8"/>
</g>
<g fill="#3a8ee8"><rect x="764" y="399.5" width="3.5" height="3.5"/><rect x="768.5" y="399.5" width="3.5" height="3.5"/><rect x="764" y="404" width="3.5" height="3.5"/><rect x="768.5" y="404" width="3.5" height="3.5"/></g>
<circle cx="798" cy="400" r="1.3" fill="#f33"/>
<g font-size="3.8" text-anchor="middle" fill="#999">
 <text x="712" y="413">消息</text><text x="740" y="413">DING</text><text x="768" y="413" fill="#3a8ee8">ERP</text><text x="795" y="413">联系人</text><text x="822" y="413">我的</text>
</g>
</svg>
</body></html>
